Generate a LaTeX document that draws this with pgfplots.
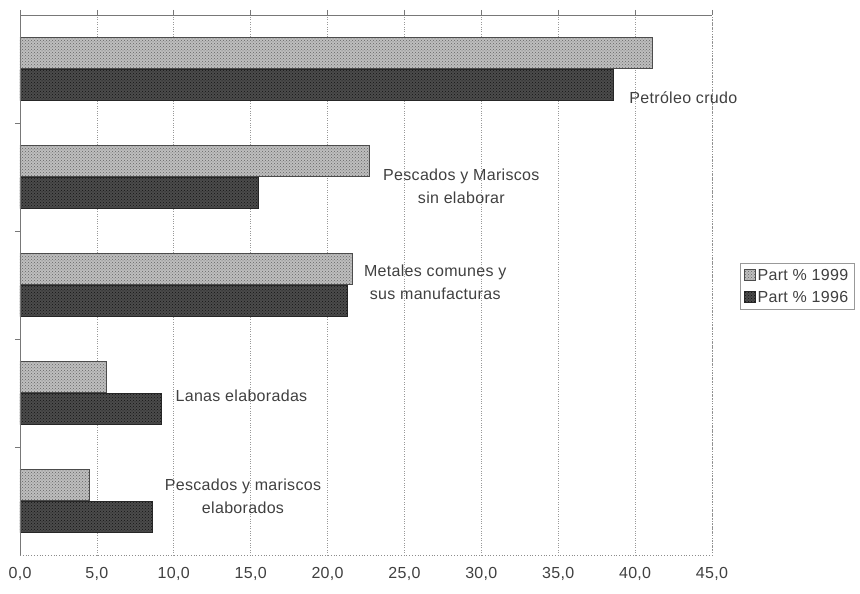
\documentclass[border=0pt]{standalone}
\usepackage{pgfplots}
\pgfplotsset{compat=1.18}
\usepackage{fontspec}
\setmainfont{Liberation Sans}[LetterSpace=2]
\usetikzlibrary{patterns}
\definecolor{lightbar}{RGB}{190,190,190}
\definecolor{lightdot}{RGB}{100,100,100}
\definecolor{darkbar}{RGB}{75,75,75}
\definecolor{darkdot}{RGB}{20,20,20}
\definecolor{axgray}{RGB}{120,120,120}
\begin{document}
\begin{tikzpicture}[x=1pt,y=1pt]
\path[use as bounding box] (0,0) rectangle (860,594);
\begin{axis}[
  at={(20pt,39pt)}, anchor=south west,
  scale only axis, width=692pt, height=540pt,
  xmin=0, xmax=45, ymin=-0.5, ymax=4.5,
  xbar, bar width=31pt,
  axis line style={draw=none},
  xtick={0,5,...,45},
  xticklabels={{0,0},{5,0},{10,0},{15,0},{20,0},{25,0},{30,0},{35,0},{40,0},{45,0}},
  xtick pos=upper, xticklabel pos=lower,
  xticklabel style={font=\fontsize{16}{19}\selectfont, text=black!75, yshift=-4pt},
  ytick={0.5,1.5,2.5,3.5}, yticklabels={},
  ytick pos=left,
  tick align=outside, major tick length=5pt,
  tick style={draw=axgray, line width=0.7pt},
  xmajorgrids, grid style={dotted, draw=black!40, line width=0.7pt},
  legend style={at={(1.0405,0.5407)}, anchor=north west, draw=black!40,
    font=\fontsize{16}{19}\selectfont, text=black!75, inner sep=4pt,
    row sep=5pt, cells={anchor=west}},
  legend image code/.code={\draw[#1] (0pt,-5pt) rectangle (11pt,6pt);},
  clip=false,
]
\addplot[draw=black!70, fill=lightbar, bar shift=16pt,
  postaction={pattern=crosshatch dots, pattern color=lightdot}]
  coordinates {(41.1,4) (22.7,3) (21.6,2) (5.6,1) (4.5,0)};
\addlegendentry{Part \% 1999}
\addplot[draw=black!85, fill=darkbar, bar shift=-16pt,
  postaction={pattern=crosshatch dots, pattern color=darkdot}]
  coordinates {(38.6,4) (15.5,3) (21.3,2) (9.2,1) (8.6,0)};
\addlegendentry{Part \% 1996}
% axis borders
\draw[axgray, line width=0.8pt] (rel axis cs:0,0) -- (rel axis cs:0,1) -- (rel axis cs:1,1);
\draw[black!45, dotted, line width=0.8pt] (rel axis cs:0,0) -- (rel axis cs:1,0) -- (rel axis cs:1,1);
% data labels
\begin{scope}[every node/.style={font=\fontsize{16}{23}\selectfont, text=black!75, align=center}]
\node[anchor=west] at (axis cs:39.4,3.73) {Petróleo crudo};
\node at (axis cs:28.7,2.917) {Pescados y Mariscos\\sin elaborar};
\node at (axis cs:27.0,2.028) {Metales comunes y\\sus manufacturas};
\node at (axis cs:14.4,0.972) {Lanas elaboradas};
\node at (axis cs:14.5,0.046) {Pescados y mariscos\\elaborados};
\end{scope}
\end{axis}
\end{tikzpicture}
\end{document}
